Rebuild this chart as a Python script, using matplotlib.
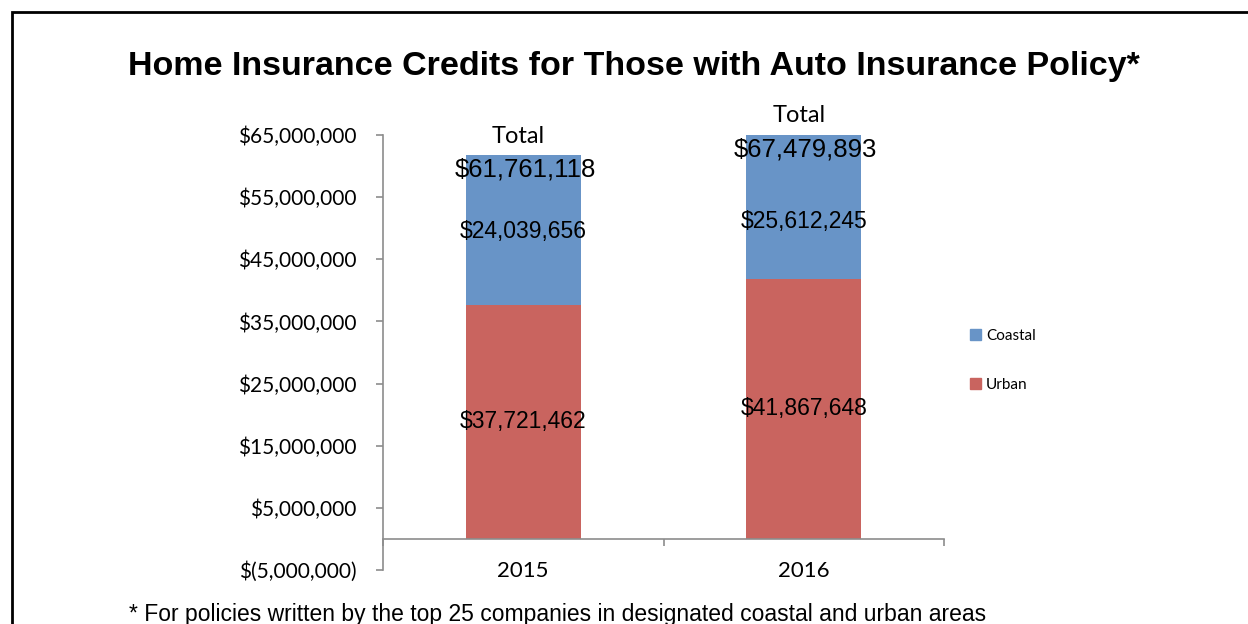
import matplotlib
matplotlib.use('Agg')
import matplotlib.pyplot as plt
from matplotlib.patches import Rectangle, Patch

# data
years = ['2015', '2016']
urban = [37721462, 41867648]
coastal = [24039656, 25612245]
totals = [61761118, 67479893]
yticks = [-5000000, 5000000, 15000000, 25000000, 35000000, 45000000, 55000000, 65000000]

URBAN_COLOR = '#C9645F'
COASTAL_COLOR = '#6894C7'
AXIS_COLOR = '#8C8C8C'
CAL = 'Lato'
ARIAL = 'Liberation Sans'


def money(v):
    if v < 0:
        return '$({:,.0f})'.format(-v)
    return '${:,.0f}'.format(v)


fig = plt.figure(figsize=(12.48, 6.24), dpi=100)
ax = fig.add_axes([383 / 1248, 1 - 570 / 624, 561 / 1248, 435 / 624])

x = list(range(len(years)))
ax.bar(x, urban, width=0.41, color=URBAN_COLOR, label='Urban', zorder=2)
ax.bar(x, coastal, width=0.41, bottom=urban, color=COASTAL_COLOR, label='Coastal', zorder=2)

ymin, ymax = -5000000, 65000000
ax.set_xlim(-0.5, len(years) - 0.5)
ax.set_ylim(ymin, ymax)

# axes styling (Excel-like)
for s in ['top', 'right']:
    ax.spines[s].set_visible(False)
ax.spines['bottom'].set_position(('data', 0))
for s in ['left', 'bottom']:
    ax.spines[s].set_color(AXIS_COLOR)
    ax.spines[s].set_linewidth(1.2)

ax.set_yticks(yticks)
ax.set_yticklabels([money(v) for v in yticks], fontfamily=CAL, fontsize=15)
ax.tick_params(axis='y', direction='out', length=5, color=AXIS_COLOR, width=1.2, pad=14)

ax.set_xticks([-0.5, 0.5, 1.5])
ax.set_xticklabels([])
ax.set_xticks(x, minor=True)
ax.set_xticklabels(years, minor=True, fontfamily=CAL, fontsize=16)
ax.tick_params(axis='x', which='major', direction='out', length=5, color=AXIS_COLOR, width=1.2)
ax.tick_params(axis='x', which='minor', length=0, pad=16)

# data labels in the middle of each visible segment
coastal_offsets = [-2, -15]
for i in x:
    u_mid = urban[i] / 2
    top = min(urban[i] + coastal[i], ymax)
    c_mid = (urban[i] + top) / 2
    ax.text(i, u_mid, money(urban[i]), ha='center', va='center',
            fontfamily=ARIAL, fontsize=16.5, zorder=3)
    ax.annotate(money(coastal[i]), (i, c_mid), xytext=(0, coastal_offsets[i]),
                textcoords='offset pixels', ha='center', va='center',
                fontfamily=ARIAL, fontsize=16.5, zorder=3)
    t = min(totals[i], ymax)
    ax.annotate('Total', (i, t), xytext=(-5, 19), textcoords='offset pixels',
                ha='center', va='center', fontfamily=CAL, fontsize=17,
                annotation_clip=False, zorder=3)
    ax.annotate(money(totals[i]), (i, t), xytext=(2, -14), textcoords='offset pixels',
                ha='center', va='center', fontfamily=ARIAL, fontsize=18.5,
                annotation_clip=False, zorder=3)

fig.text(0.508, 1 - 67 / 624, 'Home Insurance Credits for Those with Auto Insurance Policy*',
         ha='center', va='center', fontfamily=ARIAL, fontweight='bold', fontsize=24.5)

fig.text(129 / 1248, 1 - 614 / 624,
         '* For policies written by the top 25 companies in designated coastal and urban areas',
         ha='left', va='center', fontfamily=ARIAL, fontsize=16.5)

handles = [Patch(color=COASTAL_COLOR, label='Coastal'), Patch(color=URBAN_COLOR, label='Urban')]
fig.legend(handles=handles, loc='upper left', bbox_to_anchor=(970 / 1248, 1 - 329 / 624),
           frameon=False, prop={'family': CAL, 'size': 11}, handlelength=0.7,
           handleheight=0.7, handletextpad=0.35, labelspacing=2.3,
           borderpad=0, borderaxespad=0)

# outer frame around the chart
fig.patches.append(Rectangle((12 / 1248, -0.1), 1.2, 1 - 12 / 624 + 0.1,
                             transform=fig.transFigure, fill=False,
                             edgecolor='black', linewidth=2))

fig.savefig('out.png', dpi=100)
